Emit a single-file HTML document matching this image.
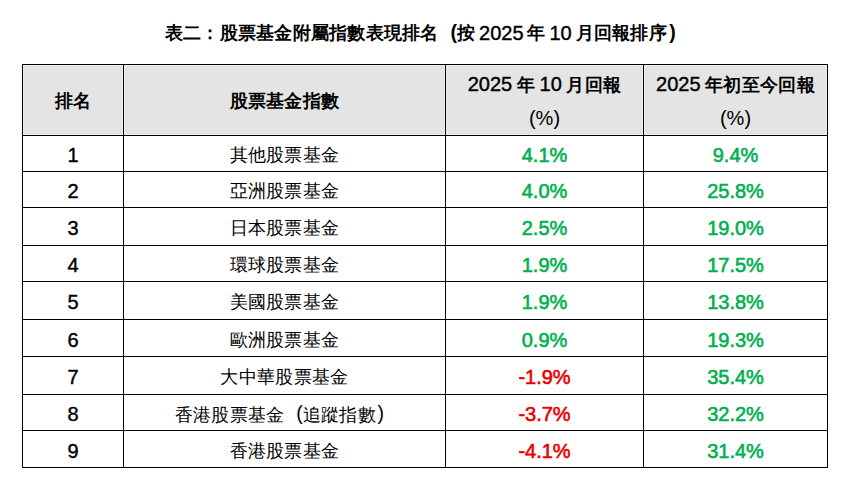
<!DOCTYPE html>
<html lang="zh-Hant">
<head>
<meta charset="utf-8">
<style>
html,body{margin:0;padding:0;background:#fff;}
body{width:850px;height:489px;position:relative;overflow:hidden;font-family:"Liberation Sans",sans-serif;color:#000;}
div{position:absolute;}
.t{left:0px;width:850px;top:20px;text-align:center;font-size:18px;font-weight:bold;line-height:24px;white-space:nowrap;letter-spacing:0.25px;}
.t .n{letter-spacing:0;word-spacing:-1.7px;position:relative;top:1px;}
.c .n{word-spacing:-1px;}
.h{left:22px;width:806px;height:1px;background:#000;}
.v{top:64px;width:1px;height:404px;background:#000;}
.g{top:65px;height:68px;background:#e4e4e4;border:1px solid #eeeeee;}
.c{text-align:center;white-space:nowrap;font-size:18px;line-height:24px;height:24px;letter-spacing:0.3px;}
.n{font-size:20px;letter-spacing:0;}
.b{font-weight:bold;}
.gr{color:#00b050;font-weight:bold;}
.rd{color:#e80000;font-weight:bold;}
.t .n,.b .n,.c.n.b,.gr,.rd{font-weight:normal;-webkit-text-stroke:0.4px;}
.gr,.rd{-webkit-text-stroke:0.6px;}
.pl,.pr{display:inline-block;width:18.3px;font-size:19.5px;position:relative;top:-1px;letter-spacing:0;}
.pl{text-align:right;padding-right:0px;box-sizing:border-box;}
.pr{text-align:left;padding-left:1.5px;box-sizing:border-box;}
.t .pl,.t .pr{font-size:19.5px;top:-0.5px;}
.t .pr{padding-left:2.5px;}
</style>
</head>
<body>
<div class="t">表二：股票基金附屬指數表現排名<span class="pl">(</span>按<span class="n"> 2025 </span>年<span class="n"> 10 </span>月回報排序<span class="pr">)</span></div>
<div class="g" style="left:23px;width:98px"></div>
<div class="g" style="left:124px;width:319px"></div>
<div class="g" style="left:446px;width:195px"></div>
<div class="g" style="left:644px;width:181px"></div>
<div class="h" style="top:64px"></div>
<div class="h" style="top:135px"></div>
<div class="h" style="top:171px"></div>
<div class="h" style="top:207px"></div>
<div class="h" style="top:245px"></div>
<div class="h" style="top:281px"></div>
<div class="h" style="top:319px"></div>
<div class="h" style="top:356px"></div>
<div class="h" style="top:394px"></div>
<div class="h" style="top:430px"></div>
<div class="h" style="top:467px"></div>
<div class="v" style="left:22px"></div>
<div class="v" style="left:123px"></div>
<div class="v" style="left:445px"></div>
<div class="v" style="left:643px"></div>
<div class="v" style="left:827px"></div>
<div class="c b" style="left:23px;width:100px;top:89px">排名</div>
<div class="c b" style="left:124px;width:321px;top:89px">股票基金指數</div>
<div class="c b" style="left:446px;width:197px;top:72px"><span class="n">2025 </span>年<span class="n"> 10 </span>月回報</div>
<div class="c n" style="left:446px;width:197px;top:106px">(%)</div>
<div class="c b" style="left:644px;width:183px;top:72px"><span class="n">2025 </span>年初至今回報</div>
<div class="c n" style="left:644px;width:183px;top:106px">(%)</div>
<div class="c n b" style="left:23px;width:100px;top:143.0px">1</div>
<div class="c" style="left:124px;width:321px;top:143.0px">其他股票基金</div>
<div class="c n gr" style="left:446px;width:197px;top:143.0px">4.1%</div>
<div class="c n gr" style="left:644px;width:183px;top:143.0px">9.4%</div>
<div class="c n b" style="left:23px;width:100px;top:179.0px">2</div>
<div class="c" style="left:124px;width:321px;top:179.0px">亞洲股票基金</div>
<div class="c n gr" style="left:446px;width:197px;top:179.0px">4.0%</div>
<div class="c n gr" style="left:644px;width:183px;top:179.0px">25.8%</div>
<div class="c n b" style="left:23px;width:100px;top:216.0px">3</div>
<div class="c" style="left:124px;width:321px;top:216.0px">日本股票基金</div>
<div class="c n gr" style="left:446px;width:197px;top:216.0px">2.5%</div>
<div class="c n gr" style="left:644px;width:183px;top:216.0px">19.0%</div>
<div class="c n b" style="left:23px;width:100px;top:253.0px">4</div>
<div class="c" style="left:124px;width:321px;top:253.0px">環球股票基金</div>
<div class="c n gr" style="left:446px;width:197px;top:253.0px">1.9%</div>
<div class="c n gr" style="left:644px;width:183px;top:253.0px">17.5%</div>
<div class="c n b" style="left:23px;width:100px;top:290.0px">5</div>
<div class="c" style="left:124px;width:321px;top:290.0px">美國股票基金</div>
<div class="c n gr" style="left:446px;width:197px;top:290.0px">1.9%</div>
<div class="c n gr" style="left:644px;width:183px;top:290.0px">13.8%</div>
<div class="c n b" style="left:23px;width:100px;top:327.5px">6</div>
<div class="c" style="left:124px;width:321px;top:327.5px">歐洲股票基金</div>
<div class="c n gr" style="left:446px;width:197px;top:327.5px">0.9%</div>
<div class="c n gr" style="left:644px;width:183px;top:327.5px">19.3%</div>
<div class="c n b" style="left:23px;width:100px;top:365.0px">7</div>
<div class="c" style="left:124px;width:321px;top:365.0px">大中華股票基金</div>
<div class="c n rd" style="left:446px;width:197px;top:365.0px">-1.9%</div>
<div class="c n gr" style="left:644px;width:183px;top:365.0px">35.4%</div>
<div class="c n b" style="left:23px;width:100px;top:402.0px">8</div>
<div class="c" style="left:124px;width:321px;top:402.0px">香港股票基金<span class="pl">(</span>追蹤指數<span class="pr">)</span></div>
<div class="c n rd" style="left:446px;width:197px;top:402.0px">-3.7%</div>
<div class="c n gr" style="left:644px;width:183px;top:402.0px">32.2%</div>
<div class="c n b" style="left:23px;width:100px;top:438.5px">9</div>
<div class="c" style="left:124px;width:321px;top:438.5px">香港股票基金</div>
<div class="c n rd" style="left:446px;width:197px;top:438.5px">-4.1%</div>
<div class="c n gr" style="left:644px;width:183px;top:438.5px">31.4%</div>
</body>
</html>
